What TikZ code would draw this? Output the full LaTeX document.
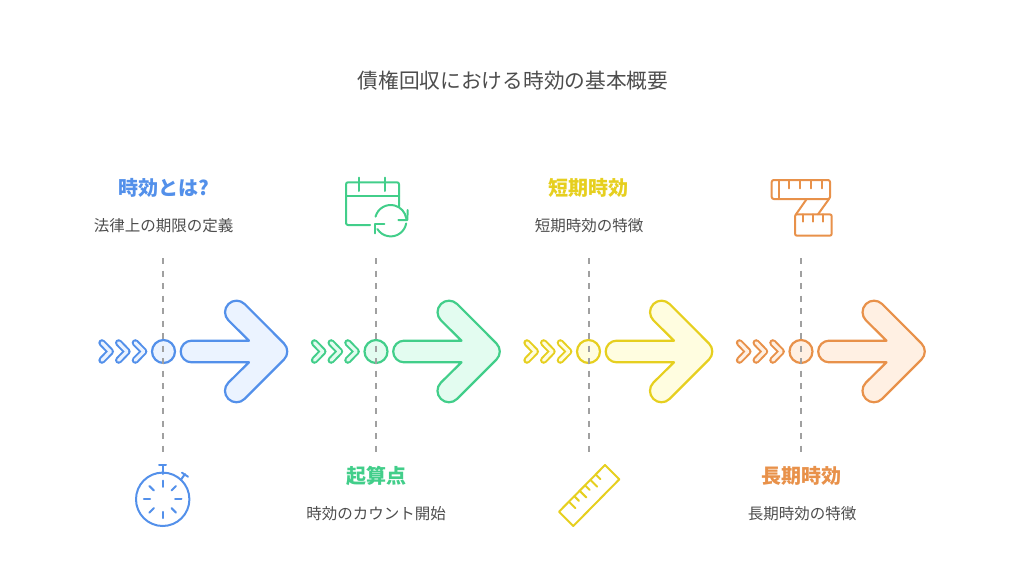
\documentclass[tikz,border=0pt]{standalone}
\usepackage{fontspec}
\setmainfont{Noto Sans CJK JP}
\definecolor{blueline}{HTML}{5390EA}
\definecolor{bluefill}{HTML}{EBF3FF}
\definecolor{greenline}{HTML}{42CE8A}
\definecolor{greenfill}{HTML}{E3FCF0}
\definecolor{yellowline}{HTML}{E6CF1F}
\definecolor{yellowfill}{HTML}{FFFDE0}
\definecolor{orangeline}{HTML}{E8914A}
\definecolor{orangefill}{HTML}{FFF0E3}
\definecolor{titlegray}{HTML}{4D4D4D}
\definecolor{guidegray}{HTML}{A0A0A0}
\tikzset{
  headlabel/.style={font=\fontsize{20}{24}\selectfont\bfseries},
  desclabel/.style={font=\fontsize{15.5}{18}\selectfont,text=titlegray},
  iconline/.style={line width=2pt,line cap=round,line join=round},
  guideline/.style={line width=2pt,draw=guidegray,dash pattern=on 6pt off 6.5pt},
}
\begin{document}
\begin{tikzpicture}[x=1pt,y=-1pt]
  \useasboundingbox (0,0) rectangle (1024,578);
  \node[font=\fontsize{20.7}{24}\selectfont,text=titlegray] (title) at (513,81) {債権回収における時効の基本概要};
  \foreach \i/\x/\g/\lc/\fc in {1/163.5/-0.5/blueline/bluefill,2/376/0/greenline/greenfill,3/588.5/0/yellowline/yellowfill,4/801/0/orangeline/orangefill} {
    \begin{scope}[shift={(\x,351.5)}]
      \draw[draw=\lc,fill=\fc,line width=2.2pt,line join=round]
        (85.5,-10.8) -- (64.9,-31.2)
        arc[start angle=135,end angle=315,radius=11.5] -- (120.4,-8.13)
        arc[start angle=315,end angle=405,radius=11.5] -- (81.1,47.4)
        arc[start angle=45,end angle=225,radius=11.5] -- (85.5,10.8) -- (28,10.8)
        arc[start angle=90,end angle=270,radius=10.8] -- cycle;
      \foreach \u in {0,16.7,33.4}
        \draw[draw=\lc,double=\fc,double distance=3.2pt,line width=2pt,line cap=round,line join=round]
          ({-61.6+\u},-8.7) -- ({-53.1+\u},0) -- ({-61.6+\u},8.7);
      \node[circle,draw=\lc,fill=\fc,line width=2.2pt,minimum size=23pt,inner sep=0pt] (dot\i) at (0,0) {};
      \coordinate (top\i) at (\g,-93.5);
      \coordinate (bot\i) at (\g,103.5);
      \draw[guideline] (top\i) -- (bot\i);
    \end{scope}
  }
  % labels
  \node[headlabel,text=blueline] (head1) at (163.5,188) {時効とは?};
  \node[desclabel] (desc1) at (163.5,226) {法律上の期限の定義};
  \node[headlabel,text=greenline] (head2) at (376,476) {起算点};
  \node[desclabel] (desc2) at (376,514) {時効のカウント開始};
  \node[headlabel,text=yellowline] (head3) at (588.5,188) {短期時効};
  \node[desclabel] (desc3) at (589,226) {短期時効の特徴};
  \node[headlabel,text=orangeline] (head4) at (801,476) {長期時効};
  \node[desclabel] (desc4) at (802,514) {長期時効の特徴};
  % stopwatch
  \coordinate (watch) at (162.7,499.3);
  \draw[iconline,blueline] (watch) circle (26.7);
  \foreach \a in {0,45,...,315}
    \draw[iconline,blueline] (watch) ++(\a:12.5) -- ++(\a:6.3);
  \draw[iconline,blueline] (162.7,474) -- (162.7,465) (159,465) -- (166,465);
  \draw[iconline,blueline] (180.7,480) -- (185,474) (182,472.7) -- (188,476.7);
  % calendar
  \draw[iconline,greenline,rounded corners=2pt] (370,225) -- (346,225) -- (346,182.3) -- (399,182.3) -- (399,206.7);
  \draw[iconline,greenline] (346,195.7) -- (399,195.7) (359,177.7) -- (359,191) (385,177.7) -- (385,191);
  \coordinate (sync) at (390.7,220.7);
  \draw[iconline,greenline] (sync) ++(195:15.7) arc[start angle=195,end angle=351,radius=15.7];
  \draw[iconline,greenline] (sync) ++(10:15.7) arc[start angle=10,end angle=148,radius=15.7];
  \draw[iconline,greenline] (407.7,210) -- (407.3,220) -- (398.3,220);
  \draw[iconline,greenline] (375,233.3) -- (375,224.3) -- (384.3,224.3);
  % ruler
  \draw[iconline,yellowline] (605,465) -- (619.3,479.3) -- (573.3,526) -- (559,511.7) -- cycle;
  \foreach \p/\l in {0/6.5,1/4.5,2/6.5,3/4.5,4/6.5,5/4.5}
    \draw[iconline,yellowline] ({569+\p*5.4},{501.7-\p*5.4}) -- ++({\l},{\l});
  % tape
  \draw[iconline,orangeline,rounded corners=2pt] (771.7,180) rectangle (830,199);
  \draw[iconline,orangeline,rounded corners=2pt] (795,214.3) rectangle (831.7,235.7);
  \draw[iconline,orangeline] (779.3,180) -- (779.3,199);
  \foreach \t in {789.3,800,810.7,821.7}
    \draw[iconline,orangeline] (\t,180) -- (\t,188.3);
  \foreach \t in {803.3,813.3,823.3}
    \draw[iconline,orangeline] (\t,214.3) -- (\t,221.7);
  \draw[iconline,orangeline] (806.7,199) -- (796,214.3) (829,199) -- (818,214.3);
\end{tikzpicture}
\end{document}
